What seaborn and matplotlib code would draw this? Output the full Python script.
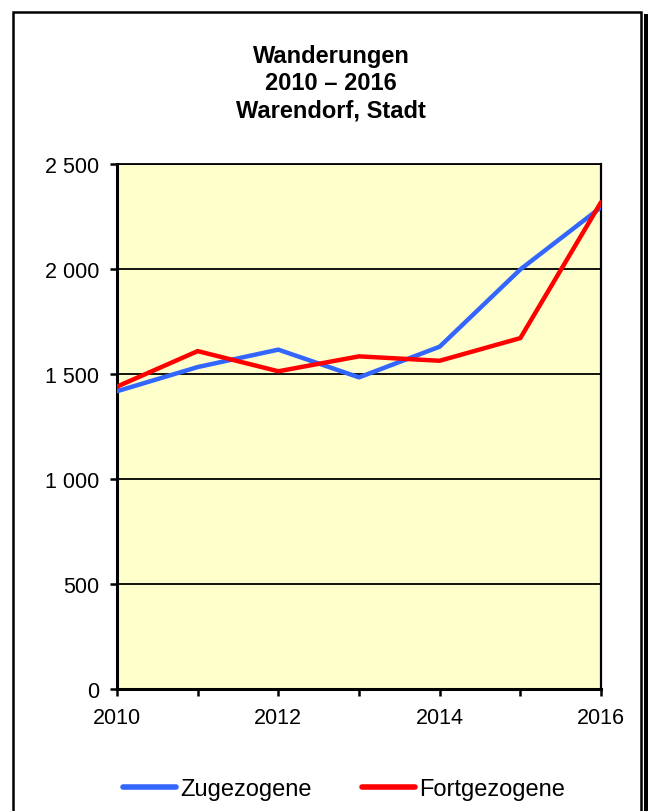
'''Wanderungen 2010 - 2016, Warendorf, Stadt.

Line plot of the in- and out-migration counts per year.
'''

# -----------------------------------------------------------------------------
# Modules

from matplotlib import pyplot as plt  # type: ignore
from matplotlib.patches import Rectangle  # type: ignore
from matplotlib.ticker import FuncFormatter, MultipleLocator  # type: ignore
import pandas as pd  # type: ignore
import seaborn as sns  # type: ignore

# -----------------------------------------------------------------------------
# Data

years = [2010, 2011, 2012, 2013, 2014, 2015, 2016]
zugezogene = [1418, 1533, 1616, 1484, 1630, 1998, 2294]
fortgezogene = [1440, 1609, 1513, 1584, 1563, 1671, 2318]
series_names = ['Zugezogene', 'Fortgezogene']
title_lines = ['Wanderungen', '2010 \u2013 2016', 'Warendorf, Stadt']

# -----------------------------------------------------------------------------


def thousands(value, _pos):
    """Formats the y tick labels with a space as thousands separator."""
    return f'{int(value):,}'.replace(',', ' ')


def main() -> None:
    """Draws the chart and saves it as out.png."""

    sns.set_style('white')
    plt.rcParams['font.family'] = ['Liberation Sans', 'DejaVu Sans']
    plt.rcParams['text.color'] = 'black'
    plt.rcParams['xtick.color'] = 'black'
    plt.rcParams['ytick.color'] = 'black'

    data = pd.DataFrame({'Jahr': years * 2,
                         'Anzahl': zugezogene + fortgezogene,
                         'Art': [series_names[0]] * len(years)
                         + [series_names[1]] * len(years)})

    figure = plt.figure(figsize=(6.48, 8.12), dpi=100)

    # Outer frame with shadow
    figure.patches.append(Rectangle((644 / 648, -0.05), 0.02, 1.05 - 15 / 812,
                                    transform=figure.transFigure,
                                    facecolor='black', edgecolor='none',
                                    zorder=-3))
    figure.patches.append(Rectangle((13 / 648, -0.05), 628 / 648,
                                    1.05 - 13 / 812,
                                    transform=figure.transFigure,
                                    facecolor='white', edgecolor='black',
                                    linewidth=1.8, zorder=-2))

    ax = figure.add_axes([117 / 648, 1 - 690 / 812, 484 / 648, 525 / 812])
    ax.set_facecolor('#FFFFCC')

    sns.lineplot(data=data, x='Jahr', y='Anzahl', hue='Art',
                 palette=['#3366FF', '#FF0000'], linewidth=3.2, ax=ax,
                 legend=False, zorder=3)

    ax.set_xlim(2010, 2016)
    ax.set_ylim(0, 2500)
    ax.xaxis.set_major_locator(MultipleLocator(2))
    ax.xaxis.set_minor_locator(MultipleLocator(1))
    ax.yaxis.set_major_locator(MultipleLocator(500))
    ax.yaxis.set_major_formatter(FuncFormatter(thousands))
    ax.xaxis.set_major_formatter(FuncFormatter(lambda v, p: f'{int(v)}'))

    ax.grid(True, axis='y', color='black', linewidth=1.3, zorder=1)
    ax.set_axisbelow(True)
    ax.set_xlabel('')
    ax.set_ylabel('')

    for side in ('left', 'bottom'):
        ax.spines[side].set_linewidth(2.2)
        ax.spines[side].set_color('black')
    ax.spines['right'].set_linewidth(1.6)
    ax.spines['right'].set_color('black')
    ax.spines['top'].set_linewidth(1.3)
    ax.spines['top'].set_color('black')

    ax.tick_params(axis='both', which='both', direction='out', length=5,
                   width=1.8, color='black', labelsize=15.5, pad=8,
                   labelcolor='black', left=True, bottom=True)
    ax.tick_params(axis='x', pad=8)

    # Title
    for index, line in enumerate(title_lines):
        figure.text(331 / 648, 1 - (56 + 27.5 * index) / 812, line,
                    ha='center', va='center', fontsize=17,
                    fontweight='bold', color='black')

    # Legend
    handles = ax.get_lines()[:2]
    legend = figure.legend(handles, series_names, loc='center',
                           bbox_to_anchor=(344 / 648, 1 - 790 / 812),
                           ncol=2, frameon=False, fontsize=17,
                           handlelength=2.25, handletextpad=0.2,
                           columnspacing=2.1)
    for line in legend.get_lines():
        line.set_linewidth(4)
        line.set_solid_capstyle('round')
    for text in legend.get_texts():
        text.set_color('black')

    figure.savefig('out.png', dpi=100)
    plt.close()

# -----------------------------------------------------------------------------


if __name__ == "__main__":
    main()
